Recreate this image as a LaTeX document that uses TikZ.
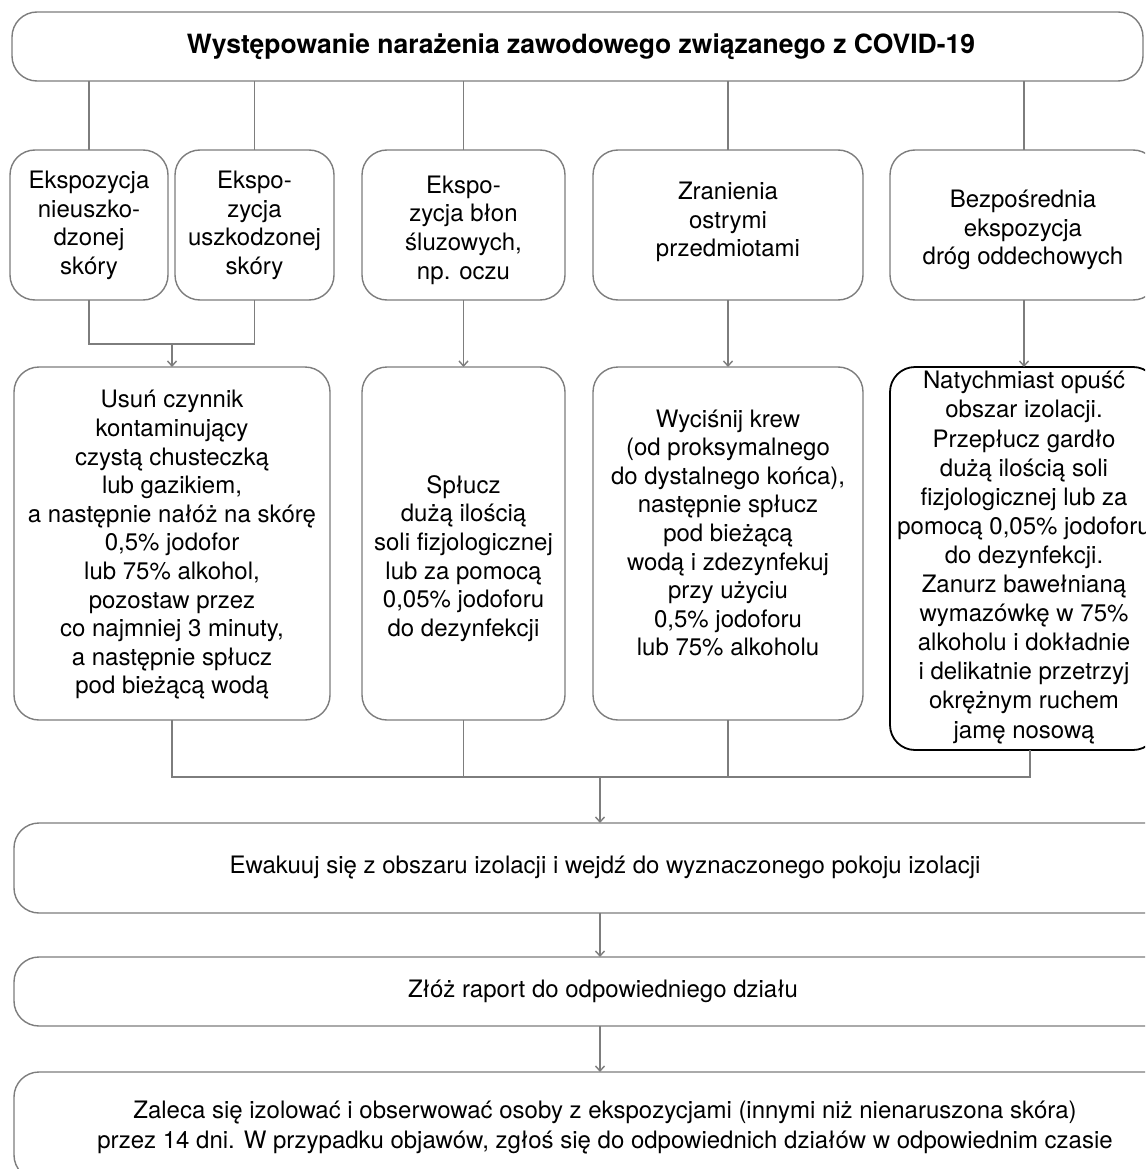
\documentclass[tikz,border=0pt]{standalone}
\usepackage{fontspec}
\setmainfont{TeX Gyre Heros}
\usetikzlibrary{arrows.meta}
\definecolor{linegray}{RGB}{125,125,125}
\begin{document}
\begin{tikzpicture}[x=1pt,y=-1pt,
  box/.style={draw=linegray, line width=1.4pt, rounded corners=25pt, inner sep=0pt, outer sep=0pt},
  darkbox/.style={draw=black, line width=1.8pt, rounded corners=25pt, inner sep=0pt, outer sep=0pt},
  txt/.style={align=center, font=\fontsize{24}{28.6}\selectfont, inner sep=0pt},
  link/.style={draw=linegray, line width=1.4pt},
  arr/.style={link, -{Straight Barb[length=5pt,width=9pt]}}]
\useasboundingbox (0,0) rectangle (1145,1169);
\clip (0,0) rectangle (1145,1169);
% boxes
\node[box, minimum width=1131pt, minimum height=69pt] (top) at (577.5,46.5) {};
\node[box, minimum width=158pt, minimum height=150pt] (b1) at (89,225) {};
\node[box, minimum width=159pt, minimum height=150pt] (b2) at (254.5,225) {};
\node[box, minimum width=203pt, minimum height=150pt] (b3) at (463.5,225) {};
\node[box, minimum width=270pt, minimum height=150pt] (b4) at (728,225) {};
\node[box, minimum width=268pt, minimum height=150pt] (b5) at (1024,225) {};
\node[box, minimum width=316pt, minimum height=353pt] (ra) at (172,543.5) {};
\node[box, minimum width=203pt, minimum height=353pt] (rb) at (463.5,543.5) {};
\node[box, minimum width=270pt, minimum height=353pt] (rc) at (728,543.5) {};
\node[darkbox, minimum width=268pt, minimum height=383pt] (rd) at (1024,558.5) {};
\node[box, minimum width=1172pt, minimum height=90pt] (ev) at (600,868) {};
\node[box, minimum width=1172pt, minimum height=69pt] (rep) at (600,991.5) {};
\node[box, minimum width=1172pt, minimum height=108pt] (obs) at (600,1126) {};
% texts
\node[txt, font=\fontsize{26.5}{30}\selectfont\bfseries] (ttop) at (581,47) {Występowanie narażenia zawodowego związanego z COVID-19};
\node[txt] (t1) at (89,225.5) {Ekspozycja\\nieuszko-\\dzonej\\skóry};
\node[txt] (t2) at (254.5,225.5) {Ekspo-\\zycja\\uszkodzonej\\skóry};
\node[txt] (t3) at (463.5,230) {Ekspo-\\zycja błon\\śluzowych,\\np. oczu};
\node[txt] (t4) at (728,222) {Zranienia\\ostrymi\\przedmiotami};
\node[txt] (t5) at (1023,230) {Bezpośrednia\\ekspozycja\\dróg oddechowych};
\node[txt] (ta) at (172,545) {Usuń czynnik\\kontaminujący\\czystą chusteczką\\lub gazikiem,\\a następnie nałóż na skórę\\0,5\% jodofor\\lub 75\% alkohol,\\pozostaw przez\\co najmniej 3 minuty,\\a następnie spłucz\\pod bieżącą wodą};
\node[txt] (tb) at (463.5,558.5) {Spłucz\\dużą ilością\\soli fizjologicznej\\lub za pomocą\\0,05\% jodoforu\\do dezynfekcji};
\node[txt] (tc) at (728,533) {Wyciśnij krew\\(od proksymalnego\\do dystalnego końca),\\następnie spłucz\\pod bieżącą\\wodą i zdezynfekuj\\przy użyciu\\0,5\% jodoforu\\lub 75\% alkoholu};
\node[txt, font=\fontsize{24}{29.1}\selectfont] (td) at (1024,557.5) {Natychmiast opuść\\obszar izolacji.\\Przepłucz gardło\\dużą ilością soli\\fizjologicznej lub za\\pomocą 0,05\% jodoforu\\do dezynfekcji.\\Zanurz bawełnianą\\wymazówkę w 75\%\\alkoholu i dokładnie\\i delikatnie przetrzyj\\okrężnym ruchem\\jamę nosową};
\node[txt] (te) at (605,868) {Ewakuuj się z obszaru izolacji i wejdź do wyznaczonego pokoju izolacji};
\node[txt] (tf) at (603,991.5) {Złóż raport do odpowiedniego działu};
\node[txt, font=\fontsize{24}{30}\selectfont] (tg) at (605,1127) {Zaleca się izolować i obserwować osoby z ekspozycjami (innymi niż nienaruszona skóra)\\przez 14 dni. W przypadku objawów, zgłoś się do odpowiednich działów w odpowiednim czasie};
% connectors from top
\draw[link] (b1.north |- top.south) -- (b1.north);
\draw[link] (b2.north |- top.south) -- (b2.north);
\draw[link] (b3.north |- top.south) -- (b3.north);
\draw[link] (b4.north |- top.south) -- (b4.north);
\draw[link] (b5.north |- top.south) -- (b5.north);
% merge of skin boxes
\coordinate (m1) at (172,344);
\draw[link] (b1.south) -- (b1.south |- m1) -- (b2.south |- m1) -- (b2.south);
\draw[arr] (m1) -- (ra.north);
\draw[arr] (b3.south) -- (rb.north);
\draw[arr] (b4.south) -- (rc.north);
\draw[arr] (b5.south) -- (rd.north);
% merge of actions
\coordinate (m2) at (600,777);
\coordinate (dd) at ([xshift=6pt]rd.south);
\draw[link] (ra.south) -- (ra.south |- m2) -- (dd |- m2) -- (dd);
\draw[link] (rb.south) -- (rb.south |- m2);
\draw[link] (rc.south) -- (rc.south |- m2);
\draw[arr] (m2) -- (ev.north);
\draw[arr] (ev.south) -- (rep.north);
\draw[arr] (rep.south) -- (obs.north);
\end{tikzpicture}
\end{document}
